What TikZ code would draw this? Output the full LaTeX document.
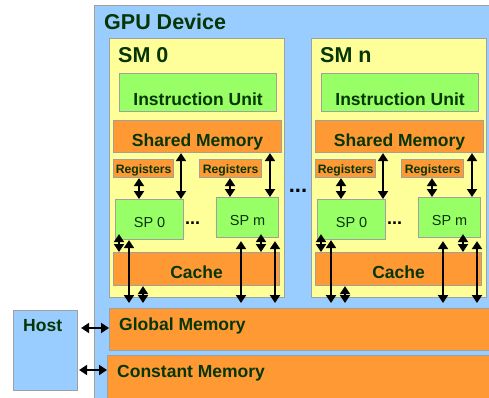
\documentclass[tikz,border=0pt]{standalone}
\usepackage{fontspec}
\setmainfont{Liberation Sans}
\usetikzlibrary{arrows.meta}
\definecolor{gpublue}{HTML}{99CCFF}
\definecolor{smyellow}{HTML}{FFFF99}
\definecolor{unitgreen}{HTML}{99FF66}
\definecolor{memorange}{HTML}{FF9933}
\definecolor{edgegray}{HTML}{A0A0A0}
\definecolor{txtgreen}{HTML}{063606}
\tikzset{
  box/.style={draw=edgegray, line width=1.1pt, rectangle, inner sep=0pt, anchor=north west},
  lbl/.style={text=txtgreen, font=\bfseries\fontsize{17.5pt}{20pt}\selectfont, inner sep=0pt, anchor=base},
  ttl/.style={text=txtgreen, font=\bfseries\fontsize{21.5pt}{24pt}\selectfont, inner sep=0pt, anchor=base west},
  reglbl/.style={text=txtgreen, font=\bfseries\fontsize{12.2pt}{14pt}\selectfont, inner sep=0pt, anchor=base},
  splbl/.style={text=txtgreen, font=\fontsize{14.5pt}{16pt}\selectfont, inner sep=0pt, anchor=base},
  dots/.style={text=black, font=\bfseries\fontsize{20pt}{22pt}\selectfont, inner sep=0pt, anchor=base},
  arr/.style={line width=2pt, {Triangle[width=10pt,length=8pt]}-{Triangle[width=10pt,length=8pt]}},
}
\newcommand{\smblock}[3]{%
  \node[box, fill=smyellow, minimum width=175pt, minimum height=259pt] (#1sm) at ({#2+109},38) {};
  \node[ttl] (#1title) at ({#2+118},63) {#3};
  \node[box, fill=unitgreen, minimum width=157pt, minimum height=38pt] (#1iu) at ({#2+119},73) {};
  \node[lbl] (#1iut) at ([yshift=-13pt]#1iu.center) {Instruction Unit};
  \node[box, fill=memorange, minimum width=168pt, minimum height=32pt] (#1shm) at ({#2+113},120) {};
  \node[lbl] (#1shmt) at ([yshift=-10pt]#1shm.center) {Shared Memory};
  \node[box, fill=memorange, minimum width=60pt, minimum height=18pt] (#1reg0) at ({#2+113},159) {};
  \node[reglbl] (#1reg0t) at ([yshift=-4.5pt]#1reg0.center) {Registers};
  \node[box, fill=memorange, minimum width=62pt, minimum height=18pt] (#1regm) at ({#2+199},159) {};
  \node[reglbl] (#1regmt) at ([yshift=-4.5pt]#1regm.center) {Registers};
  \node[box, fill=unitgreen, minimum width=68pt, minimum height=40pt] (#1sp0) at ({#2+115},199) {};
  \node[splbl] (#1sp0t) at ([yshift=-8pt]#1sp0.center) {SP 0};
  \node[box, fill=unitgreen, minimum width=62pt, minimum height=40pt] (#1spm) at ({#2+216},197) {};
  \node[splbl] (#1spmt) at ([yshift=-8pt]#1spm.center) {SP m};
  \node[dots, font=\bfseries\fontsize{18pt}{20pt}\selectfont] (#1dots) at ({#2+192.5},224) {...};
  \node[box, fill=memorange, minimum width=166pt, minimum height=33pt] (#1cache) at ({#2+113},252) {};
  \node[lbl] (#1cachet) at ([yshift=-9.5pt]#1cache.center) {Cache};
  \coordinate (#1x1) at ({#2+181},0);
  \coordinate (#1x2) at ({#2+270},0);
  \coordinate (#1x3) at ({#2+139},0);
  \coordinate (#1x4) at ({#2+230},0);
  \coordinate (#1x5) at ({#2+119},0);
  \coordinate (#1x6) at ({#2+129},0);
  \coordinate (#1x7) at ({#2+143},0);
  \coordinate (#1x8) at ({#2+241},0);
  \coordinate (#1x9) at ({#2+261},0);
  \coordinate (#1x10) at ({#2+275},0);
  \draw[arr] (#1shm.south -| #1x1) -- (#1sp0.north -| #1x1);
  \draw[arr] (#1shm.south -| #1x2) -- (#1spm.north -| #1x2);
  \draw[arr] (#1reg0.south -| #1x3) -- (#1sp0.north -| #1x3);
  \draw[arr] (#1regm.south -| #1x4) -- (#1spm.north -| #1x4);
  \draw[arr] ([yshift=6pt]#1sp0.south -| #1x5) -- (#1cache.north -| #1x5);
  \draw[arr] (#1sp0.south -| #1x6) -- ([yshift=5pt]glob.north -| #1x6);
  \draw[arr] (#1cache.south -| #1x7) -- ([yshift=5pt]glob.north -| #1x7);
  \draw[arr] ([yshift=-3pt]#1spm.south -| #1x8) -- ([yshift=5pt]glob.north -| #1x8);
  \draw[arr] ([yshift=4pt]#1spm.south -| #1x9) -- (#1cache.north -| #1x9);
  \draw[arr] ([yshift=-3pt]#1spm.south -| #1x10) -- ([yshift=5pt]glob.north -| #1x10);
}
\begin{document}
\begin{tikzpicture}[x=1pt,y=-1pt]
  \useasboundingbox (0,0) rectangle (489,398);
  \clip (0,0) rectangle (489,398);
  \fill[white] (0,0) rectangle (489,398);
  \node[box, fill=gpublue, minimum width=410pt, minimum height=410pt] (gpu) at (94,5) {};
  \node[ttl] (gputitle) at (104,29.5) {GPU Device};
  \node[box, fill=memorange, minimum width=400pt, minimum height=42pt] (glob) at (109,308) {};
  \node[lbl, anchor=base west] (globt) at (119,330) {Global Memory};
  \node[box, fill=memorange, minimum width=400pt, minimum height=60pt] (const) at (107,355) {};
  \node[lbl, anchor=base west] (constt) at (117,377) {Constant Memory};
  \node[box, fill=gpublue, minimum width=64pt, minimum height=80pt] (host) at (13,310) {};
  \node[lbl, anchor=base west] (hostt) at (23,331) {Host};
  \smblock{A}{0}{SM 0}
  \smblock{B}{202}{SM n}
  \node[dots, font=\bfseries\fontsize{22pt}{24pt}\selectfont] (middots) at (298,192) {...};
  \coordinate (hy1) at (0,328);
  \coordinate (hy2) at (0,370);
  \draw[arr] ([xshift=3pt]host.east |- hy1) -- (glob.west |- hy1);
  \draw[arr] ([xshift=1pt]host.east |- hy2) -- (const.west |- hy2);
\end{tikzpicture}
\end{document}
